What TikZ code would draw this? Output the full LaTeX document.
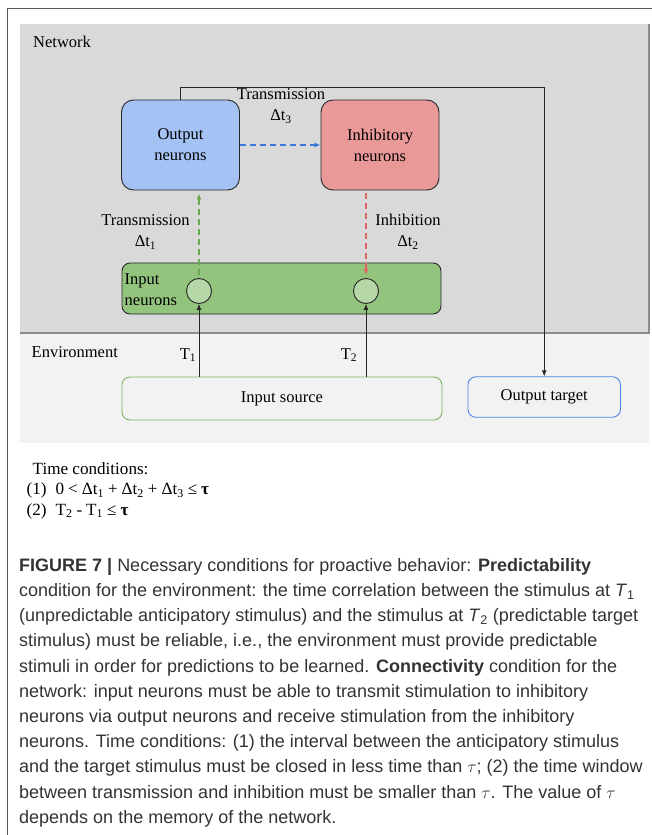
\documentclass[tikz,border=0pt]{standalone}
\usepackage{fontspec}
\setmainfont{Liberation Serif}
\newfontfamily\capfont{Liberation Sans}
\usepackage{xcolor}
\usetikzlibrary{shapes, positioning, arrows.meta}

\definecolor{netgray}{HTML}{D9D9D9}
\definecolor{envgray}{HTML}{F2F2F2}
\definecolor{outblue}{HTML}{A4C2F4}
\definecolor{inhred}{HTML}{EA9999}
\definecolor{inpgreen}{HTML}{93C47D}
\definecolor{cellgreen}{HTML}{B6D7A8}
\definecolor{dashgreen}{HTML}{6AA84F}
\definecolor{dashred}{HTML}{E06666}
\definecolor{dashblue}{HTML}{3C78D8}
\definecolor{srcgreen}{HTML}{7DB65E}
\definecolor{tgtblue}{HTML}{4A86E8}

\newcommand{\opgap}{\hspace{4pt}}

\begin{document}
\begin{tikzpicture}[x=1pt, y=-1pt, >={Latex[length=6pt,width=5pt]},
        lbl/.style={font=\fontsize{16.5}{21}\selectfont, inner sep=0pt, align=center},
        neuron/.style={lbl, draw=black!85, line width=0.9pt, rounded corners=12pt, minimum width=118pt, minimum height=90pt},
        cell/.style={circle, draw=black!85, line width=0.9pt, fill=cellgreen, minimum size=25pt, inner sep=0pt},
        envbox/.style={lbl, line width=0.9pt, rounded corners=8pt, minimum height=43pt},
        tdash/.style={->, line width=1.4pt, dash pattern=on 6pt off 4pt},
        wire/.style={->, draw=black!85, line width=0.9pt}]
        \useasboundingbox (0,0) rectangle (652,835);
        % frame, network and environment
        \draw[black!65, line width=1.2pt] (652,8.3) -- (7.5,8.3) -- (7.5,835);
        \fill[netgray] (19.5,24) rectangle (649,333);
        \fill[envgray] (19.5,333) rectangle (649,442.5);
        \draw[black!45, line width=1.2pt] (19.5,333) -- (649,333) -- (649,24);

        \node[lbl, anchor=west] (netlbl) at (33,42) {Network};
        \node[neuron, fill=outblue] (outn) at (180.5,145) {Output\\neurons};
        \node[neuron, fill=inhred] (inhn) at (380,145) {Inhibitory\\neurons};
        \node[draw=black!85, line width=0.9pt, rounded corners=8pt, fill=inpgreen, minimum width=319pt, minimum height=51pt] (inpn) at (281.5,288.5) {};
        \node[lbl, align=left, anchor=west] (inplbl) at (124.5,289.5) {Input\\neurons};
        \node[cell] (c1) at (199,291) {};
        \node[cell] (c2) at (366,291) {};

        \node[lbl] (tr1) at (145.5,232) {Transmission\\Δt\textsubscript{1}};
        \node[lbl] (inh2) at (408,232) {Inhibition\\Δt\textsubscript{2}};
        \node[lbl] (tr3) at (281,106) {Transmission\\Δt\textsubscript{3}};

        \node[lbl, anchor=west] (envlbl) at (31.5,352) {Environment};
        \node[lbl] (t1) at (188,355) {T\textsubscript{1}};
        \node[lbl] (t2) at (349,355) {T\textsubscript{2}};
        \node[envbox, draw=srcgreen, minimum width=320pt] (src) at (282,398.5) {Input source};
        \node[envbox, draw=tgtblue, minimum width=152.5pt, minimum height=40.5pt] (tgt) at (544.2,397) {Output target};
        \coordinate (fbk) at (544.2,87.3);

        \draw[tdash, dashgreen, shorten <=3pt, shorten >=3pt] (c1.north) -- (c1 |- outn.south);
        \draw[tdash, dashred, shorten <=3pt, shorten >=3pt] (inhn.south -| c2) -- (c2.north);
        \draw[tdash, dashblue] (outn) -- (inhn);
        \draw[wire] (src.north -| c1) -- (c1.south);
        \draw[wire] (src.north -| c2) -- (c2.south);
        \draw[wire] (outn.north) |- (fbk) -- (tgt.north);

        % time conditions
        \node[font=\fontsize{17.1}{20.5}\selectfont, align=left, anchor=north west, inner sep=0pt] (tcond) at (26.5,462) {%
            \hspace*{6pt}Time conditions:\\
            (1)\hspace{9pt}0\opgap<\opgap Δt\textsubscript{1}\opgap+\opgap Δt\textsubscript{2}\opgap+\opgap Δt\textsubscript{3}\opgap≤\opgap\textbf{τ}\\
            (2)\hspace{9pt}T\textsubscript{2}\opgap-\opgap T\textsubscript{1}\opgap≤\opgap\textbf{τ}};

        % caption
        \node[font=\capfont\fontsize{18}{25.2}\selectfont, text=black!80, align=left, anchor=north west, inner sep=0pt] (caption) at (19,558) {%
            \textbf{FIGURE 7 |} Necessary conditions for proactive behavior: \textbf{Predictability}\\
            condition for the environment: the time correlation between the stimulus at \textit{T}\textsubscript{1}\\
            (unpredictable anticipatory stimulus) and the stimulus at \textit{T}\textsubscript{2} (predictable target\\
            stimulus) must be reliable, i.e., the environment must provide predictable\\
            stimuli in order for predictions to be learned. \textbf{Connectivity} condition for the\\
            network: input neurons must be able to transmit stimulation to inhibitory\\
            neurons via output neurons and receive stimulation from the inhibitory\\
            neurons. Time conditions: (1) the interval between the anticipatory stimulus\\
            and the target stimulus must be closed in less time than $\tau$; (2) the time window\\
            between transmission and inhibition must be smaller than $\tau$. The value of $\tau$\\
            depends on the memory of the network.};
    \end{tikzpicture}
\end{document}
